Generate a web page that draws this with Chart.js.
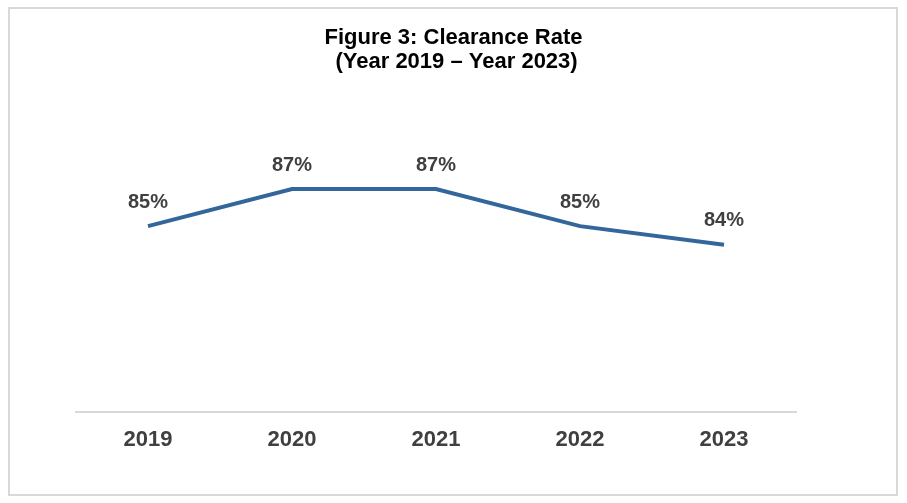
<!DOCTYPE html>
<html>
<head>
<meta charset="utf-8">
<script src="https://cdn.jsdelivr.net/npm/chart.js@4.4.1/dist/chart.umd.min.js"></script>
<style>
  html, body { margin: 0; padding: 0; background: #fff; }
  #wrap { position: relative; width: 907px; height: 503px; }
  #frame { position: absolute; left: 8px; top: 7px; width: 886px; height: 485px; border: 2px solid #d9d9d9; pointer-events: none; }
</style>
</head>
<body>
<div id="wrap">
  <canvas id="chart" width="907" height="503"></canvas>
  <div id="frame"></div>
</div>
<script>
const years = ['2019', '2020', '2021', '2022', '2023'];
const clearanceRate = [85, 87, 87, 85, 84];
const titleLines = ['Figure 3: Clearance Rate', ' (Year 2019 \u2013 Year 2023)'];

// draws "85%" etc above each point
const pointLabels = {
    id: 'pointLabels',
    afterDatasetsDraw(chart) {
        const ctx = chart.ctx;
        const meta = chart.getDatasetMeta(0);
        ctx.save();
        ctx.font = 'bold 20px "Liberation Sans", Arial, sans-serif';
        ctx.fillStyle = '#404040';
        ctx.textAlign = 'center';
        ctx.textBaseline = 'middle';
        meta.data.forEach((pt, i) => {
            ctx.fillText(clearanceRate[i] + '%', pt.x, pt.y - 24);
        });
        ctx.restore();
    }
};

var ctx = document.getElementById('chart');
var myChart = new Chart(ctx, {
    type: 'line',
    data: {
        labels: years,
        datasets: [{
            label: 'Clearance Rate',
            data: clearanceRate,
            borderColor: '#33669a',
            borderWidth: 4,
            pointRadius: 0,
            tension: 0,
            fill: false
        }]
    },
    options: {
        responsive: false,
        animation: false,
        layout: { padding: { top: 10, bottom: 35, left: 0, right: 0 } },
        plugins: {
            legend: { display: false },
            tooltip: { enabled: false },
            title: {
                display: true,
                text: titleLines,
                color: '#000000',
                font: { family: '"Liberation Sans", Arial, sans-serif', size: 22, weight: 'bold', lineHeight: 1.1 },
                padding: { top: 16, bottom: 59 }
            }
        },
        scales: {
            x: {
                offset: true,
                grid: { display: false, drawTicks: false },
                border: { display: true, color: '#d9d9d9', width: 2 },
                ticks: {
                    color: '#404040',
                    padding: 15,
                    font: { family: '"Liberation Sans", Arial, sans-serif', size: 22, weight: 'bold' }
                }
            },
            y: {
                min: 75,
                max: 90,
                grid: { display: false, drawTicks: false },
                border: { display: false },
                ticks: { display: false },
                afterFit: (scale) => { scale.width = 76; }
            },
            yRight: {
                position: 'right',
                grid: { display: false, drawTicks: false },
                border: { display: false },
                ticks: { display: false },
                afterFit: (scale) => { scale.width = 111; }
            }
        }
    },
    plugins: [pointLabels]
});
</script>
</body>
</html>
